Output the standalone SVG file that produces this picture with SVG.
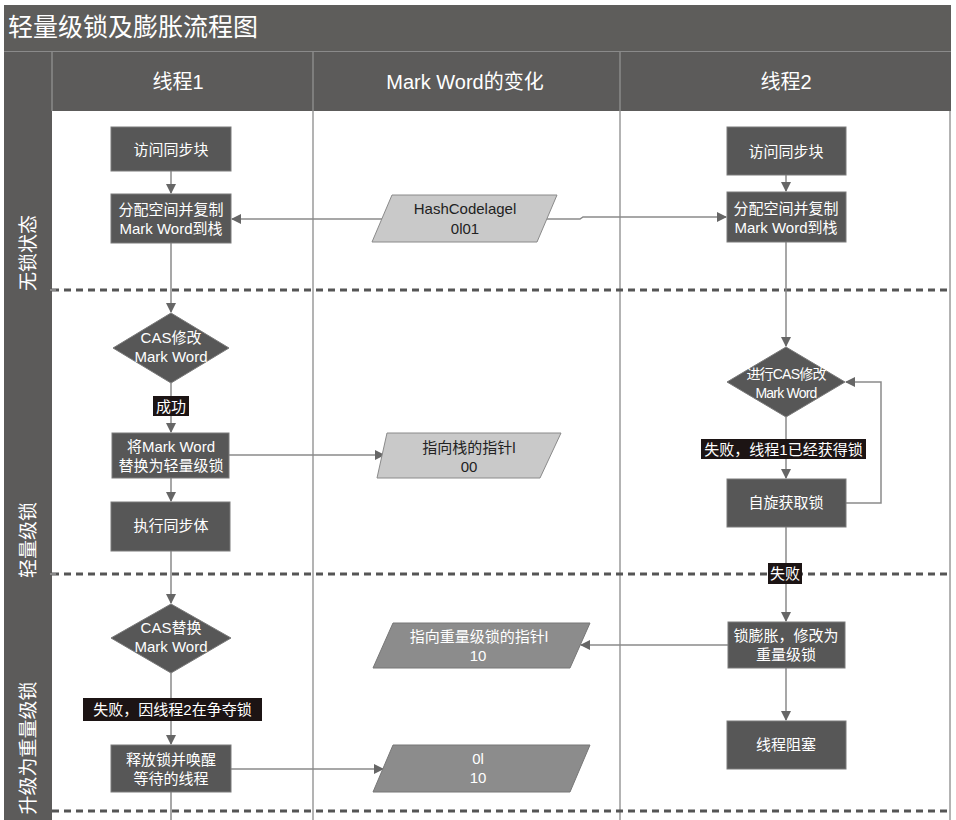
<svg xmlns="http://www.w3.org/2000/svg" width="956" height="820" viewBox="0 0 956 820">
<style>
.t{font-family:"Liberation Sans","Noto Sans CJK SC",sans-serif;fill:#fff;text-anchor:middle}
.n{fill:#575757;stroke:#7a7a7a;stroke-width:1}
.pl{fill:#c9c9c9;stroke:#8a8a8a;stroke-width:1}
.pd{fill:#8c8c8c;stroke:#777;stroke-width:1}
.dk{fill:#222;font-family:"Liberation Sans","Noto Sans CJK SC",sans-serif;text-anchor:middle;font-size:15px}
.lb{fill:#1c1414}
.c{fill:none;stroke:#8a8a8a;stroke-width:1.5}
.dash{stroke:#555;stroke-width:3;stroke-dasharray:7 5}
.vl{stroke:#9a9a9a;stroke-width:1.5}
</style>
<defs>
<marker id="ar" markerWidth="10" markerHeight="10" refX="9" refY="5" orient="auto" markerUnits="userSpaceOnUse">
<path d="M0,0 L10,5 L0,10 z" fill="#666"/>
</marker>
</defs>
<rect x="0" y="0" width="956" height="820" fill="#fff"/>
<!-- title -->
<g id="title">
<rect x="4" y="5" width="947" height="46" fill="#5e5d5b"/>
<text x="8" y="36" class="t" style="text-anchor:start;font-size:25px">轻量级锁及膨胀流程图</text>
</g>
<!-- header -->
<g id="header">
<rect x="4" y="51" width="947" height="60" fill="#5c5b5a"/>
<rect x="4" y="51" width="48" height="769" fill="#5c5b5a"/>
<line x1="52" y1="52" x2="52" y2="111" stroke="#8a8a8a" stroke-width="1.5"/>
<line x1="313" y1="52" x2="313" y2="111" stroke="#8a8a8a" stroke-width="1.5"/>
<line x1="620" y1="52" x2="620" y2="111" stroke="#8a8a8a" stroke-width="1.5"/>
<line x1="4" y1="51.5" x2="951" y2="51.5" stroke="#8a8a8a" stroke-width="1"/>
<text x="178" y="89" class="t" style="font-size:20px">线程1</text>
<text x="465" y="89" class="t" style="font-size:20px">Mark Word的变化</text>
<text x="786" y="89" class="t" style="font-size:20px">线程2</text>
</g>
<!-- lanes -->
<g id="lanes">
<line x1="313" y1="111" x2="313" y2="820" class="vl"/>
<line x1="620" y1="111" x2="620" y2="820" class="vl"/>
<line x1="950" y1="111" x2="950" y2="820" class="vl"/>
<line x1="52" y1="290" x2="952" y2="290" class="dash"/>
<line x1="52" y1="574" x2="952" y2="574" class="dash"/>
<line x1="52" y1="811" x2="952" y2="811" class="dash"/>
<line x1="50" y1="290" x2="56" y2="290" stroke="#bbb" stroke-width="1"/>
<line x1="50" y1="574" x2="56" y2="574" stroke="#bbb" stroke-width="1"/>
<text transform="translate(35,253) rotate(-90)" class="t" style="font-size:19px">无锁状态</text>
<text transform="translate(35,540) rotate(-90)" class="t" style="font-size:19px">轻量级锁</text>
<text transform="translate(35,748) rotate(-90)" class="t" style="font-size:19px">升级为重量级锁</text>
</g>
<!-- connectors -->
<g id="connectors">
<path class="c" d="M171,171 V193" marker-end="url(#ar)"/>
<path class="c" d="M171,243 V312" marker-end="url(#ar)"/>
<path class="c" d="M171,383 V432" marker-end="url(#ar)"/>
<path class="c" d="M171,478 V501" marker-end="url(#ar)"/>
<path class="c" d="M171,551 V603" marker-end="url(#ar)"/>
<path class="c" d="M171,673 V744" marker-end="url(#ar)"/>
<path class="c" d="M171,792 V820"/>
<path class="c" d="M382,219 H232" marker-end="url(#ar)"/>
<path class="c" d="M547,219 H580 L583,217 H726" marker-end="url(#ar)"/>
<path class="c" d="M229,455 H384" marker-end="url(#ar)"/>
<path class="c" d="M231,769 H383" marker-end="url(#ar)"/>
<path class="c" d="M786,175 V191" marker-end="url(#ar)"/>
<path class="c" d="M786,242 V346" marker-end="url(#ar)"/>
<path class="c" d="M786,417 V478" marker-end="url(#ar)"/>
<path class="c" d="M846,503 H881 V382 H846" marker-end="url(#ar)"/>
<path class="c" d="M786,527 V621" marker-end="url(#ar)"/>
<path class="c" d="M786,668 V720" marker-end="url(#ar)"/>
<path class="c" d="M728,645 H581" marker-end="url(#ar)"/>
</g>
<!-- edge labels -->
<g id="label-success">
<rect x="153" y="396" width="36" height="20" class="lb"/>
<text x="171" y="412" class="t" style="font-size:15px">成功</text>
</g>
<g id="label-fail-t1">
<rect x="83" y="698" width="179" height="23" class="lb"/>
<text x="172.5" y="715" class="t" style="font-size:15px">失败，因线程2在争夺锁</text>
</g>
<g id="label-fail-t2">
<rect x="701" y="439" width="165" height="20" class="lb"/>
<text x="783.5" y="455" class="t" style="font-size:15px">失败，线程1已经获得锁</text>
</g>
<g id="label-fail">
<rect x="768" y="563" width="34" height="21" class="lb"/>
<text x="785" y="579" class="t" style="font-size:15px">失败</text>
</g>
<!-- thread 1 nodes -->
<g id="t1-access">
<rect x="111" y="127" width="120" height="44" class="n"/>
<text x="171" y="155" class="t" style="font-size:15px">访问同步块</text>
</g>
<g id="t1-alloc">
<rect x="111" y="194" width="120" height="49" class="n"/>
<text x="171" y="215" class="t" style="font-size:15px">分配空间并复制</text>
<text x="171" y="234" class="t" style="font-size:15px">Mark Word到栈</text>
</g>
<g id="t1-cas">
<polygon points="171,313 229,348 171,383 113,348" class="n"/>
<text x="171" y="343" class="t" style="font-size:15px">CAS修改</text>
<text x="171" y="362" class="t" style="font-size:15px">Mark Word</text>
</g>
<g id="t1-replace">
<rect x="112" y="433" width="117" height="45" class="n"/>
<text x="171" y="452" class="t" style="font-size:15px">将Mark Word</text>
<text x="171" y="471" class="t" style="font-size:15px">替换为轻量级锁</text>
</g>
<g id="t1-exec">
<rect x="111" y="502" width="119" height="49" class="n"/>
<text x="171" y="531" class="t" style="font-size:15px">执行同步体</text>
</g>
<g id="t1-cas2">
<polygon points="171,604 231,638 171,673 111,638" class="n"/>
<text x="171" y="633" class="t" style="font-size:15px">CAS替换</text>
<text x="171" y="652" class="t" style="font-size:15px">Mark Word</text>
</g>
<g id="t1-release">
<rect x="111" y="745" width="120" height="47" class="n"/>
<text x="171" y="765" class="t" style="font-size:15px">释放锁并唤醒</text>
<text x="171" y="784" class="t" style="font-size:15px">等待的线程</text>
</g>
<!-- mark word nodes -->
<g id="mw-hash">
<polygon points="392,195 557,195 537,242 372,242" class="pl"/>
<text x="465" y="214" class="dk">HashCodelagel</text>
<text x="465" y="234" class="dk">0l01</text>
</g>
<g id="mw-stack">
<polygon points="387,433 561,433 540,478 377,478" class="pl"/>
<text x="469" y="453" class="dk">指向栈的指针l</text>
<text x="469" y="472" class="dk">00</text>
</g>
<g id="mw-heavy">
<polygon points="393,623 590,623 570,668 373,668" class="pd"/>
<text x="479" y="642" class="t" style="font-size:15px">指向重量级锁的指针l</text>
<text x="478" y="661" class="t" style="font-size:15px">10</text>
</g>
<g id="mw-release">
<polygon points="393,745 590,745 570,792 373,792" class="pd"/>
<text x="478" y="764" class="t" style="font-size:15px">0l</text>
<text x="478" y="783" class="t" style="font-size:15px">10</text>
</g>
<!-- thread 2 nodes -->
<g id="t2-access">
<rect x="727" y="127" width="119" height="48" class="n"/>
<text x="786" y="157" class="t" style="font-size:15px">访问同步块</text>
</g>
<g id="t2-alloc">
<rect x="727" y="192" width="119" height="50" class="n"/>
<text x="786" y="214" class="t" style="font-size:15px">分配空间并复制</text>
<text x="786" y="233" class="t" style="font-size:15px">Mark Word到栈</text>
</g>
<g id="t2-cas">
<polygon points="786,347 845,382 786,417 727,382" class="n"/>
<text x="786" y="379" class="t" style="font-size:14px;letter-spacing:-0.8px">进行CAS修改</text>
<text x="786" y="398" class="t" style="font-size:14px;letter-spacing:-0.8px">Mark Word</text>
</g>
<g id="t2-spin">
<rect x="727" y="479" width="119" height="48" class="n"/>
<text x="786" y="508" class="t" style="font-size:15px">自旋获取锁</text>
</g>
<g id="t2-inflate">
<rect x="728" y="622" width="117" height="46" class="n"/>
<text x="786" y="641" class="t" style="font-size:15px">锁膨胀，修改为</text>
<text x="786" y="660" class="t" style="font-size:15px">重量级锁</text>
</g>
<g id="t2-block">
<rect x="727" y="721" width="119" height="48" class="n"/>
<text x="786" y="750" class="t" style="font-size:15px">线程阻塞</text>
</g>
</svg>
